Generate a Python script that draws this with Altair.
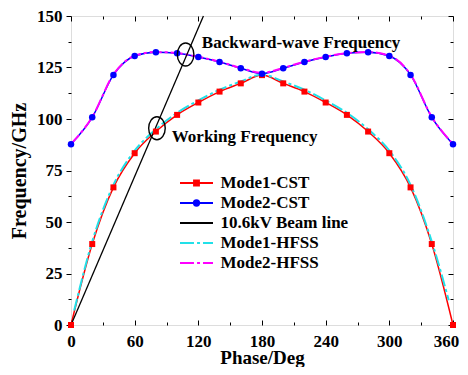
import altair as alt
import pandas as pd

# ---------------- data ----------------
phase = [0, 20, 40, 60, 80, 100, 120, 140, 160, 180, 200, 220, 240, 260, 280, 300, 320, 340, 360]
mode1_cst = [0, 39.3, 66.8, 83.4, 93.9, 102.0, 108.0, 113.3, 117.3, 121.3, 117.3, 113.3, 108.0, 102.0, 93.9, 83.4, 66.8, 39.3, 0]
mode2_cst = [87.7, 100.8, 121.4, 130.6, 132.4, 131.9, 130.1, 127.7, 124.6, 122.0, 124.6, 127.7, 130.1, 131.9, 132.4, 130.6, 121.4, 100.8, 87.7]
hfss1_phase = [3, 20, 40, 60, 80, 100, 120, 140, 160, 180, 200, 220, 240, 260, 280, 300, 320, 340, 356]
mode1_hfss = [7.0, 40.5, 68.0, 84.6, 95.0, 103.0, 109.0, 114.2, 118.2, 121.6, 118.2, 114.2, 109.0, 103.0, 95.0, 84.6, 68.0, 40.5, 12.0]
hfss2_phase = [0, 20, 40, 60, 80, 100, 120, 140, 160, 180, 200, 220, 240, 260, 280, 300, 320, 340, 360]
mode2_hfss = [87.9, 101.0, 121.6, 130.7, 132.5, 132.0, 130.2, 127.8, 124.8, 122.4, 124.8, 127.8, 130.2, 132.0, 132.5, 130.7, 121.6, 101.0, 87.9]
beam_phase = [0, 124.8]
beam_freq = [0, 150]

series_names = ["Mode1-CST", "Mode2-CST", "10.6kV Beam line", "Mode1-HFSS", "Mode2-HFSS"]
series_colors = ["#FF0000", "#0000FF", "#000000", "#22E0E8", "#FF00FF"]
legend_shapes = [
    "M-1.5,0H1.5M-0.22,-0.22H0.22V0.22H-0.22Z",
    "M-1.5,0H1.5M0.24,0A0.24,0.24 0 1,1 -0.24,0A0.24,0.24 0 1,1 0.24,0Z",
    "M-1.5,0H1.5",
    "M-1.5,0H-0.23M0.05,0H0.32M0.59,0H1.5",
    "M-1.5,0H-0.23M0.05,0H0.32M0.59,0H1.5",
]

ann_text = ["Backward-wave Frequency", "Working Frequency"]
ann_phase = [123.3, 95.0]
ann_freq = [134.3, 89.0]

ell_phase = [108.0, 81.0]
ell_freq = [131.3, 95.5]

x_major = [0, 60, 120, 180, 240, 300, 360]
x_minor = [30, 90, 150, 210, 270, 330]
y_major = [0, 25, 50, 75, 100, 125, 150]
y_minor = [12.5, 37.5, 62.5, 87.5, 112.5, 137.5]

# ---------------- layout ----------------
W, H = 382, 309
FONT = "Liberation Serif"
ELLIPSE = "M0,-1A0.72,1 0 1,1 0,1A0.72,1 0 1,1 0,-1Z"

xs = alt.Scale(domain=[0, 360], nice=False, zero=False)
ys = alt.Scale(domain=[0, 150], nice=False, zero=False)

def tick_axis(orient, values, size, offset=0):
    return alt.Axis(orient=orient, values=values, labels=False, domain=False,
                    ticks=True, tickSize=size, tickColor="black", tickWidth=1,
                    offset=offset, title=None, grid=False)

ax_x_labels = alt.Axis(orient="bottom", values=x_major, ticks=False, domain=False,
                       labelFont=FONT, labelFontSize=17, labelFontWeight="bold",
                       labelColor="black", labelPadding=8, labelFlush=False,
                       labelOffset={"expr": "datum.value == 360 ? -7 : 0"},
                       format="d", grid=False,
                       title="Phase/Deg", titleFont=FONT, titleFontSize=19,
                       titleFontWeight="bold", titleColor="black",
                       titleX=W / 2, titleY=38, titleBaseline="alphabetic")
ax_y_labels = alt.Axis(orient="left", values=y_major, ticks=True, tickSize=5,
                       tickColor="black", domain=False,
                       labelFont=FONT, labelFontSize=17, labelFontWeight="bold",
                       labelColor="black", labelPadding=4, format="d", grid=False,
                       title="Frequency/GHz", titleFont=FONT, titleFontSize=20,
                       titleFontWeight="bold", titleColor="black",
                       titleAngle=270, titleX=-46, titleY=H / 2,
                       titleBaseline="alphabetic", titleAlign="center")

def df_of(px, py):
    return pd.DataFrame({"phase": px, "freq": py})

m1 = df_of(phase, mode1_cst)
m2 = df_of(phase, mode2_cst)
h1 = df_of(hfss1_phase, mode1_hfss)
h2 = df_of(hfss2_phase, mode2_hfss)
bm = df_of(beam_phase, beam_freq)
ann = pd.DataFrame({"phase": ann_phase, "freq": ann_freq, "label": ann_text})
ell = df_of(ell_phase, ell_freq)
leg = pd.DataFrame({"series": series_names, "phase": [0] * 5, "freq": [0] * 5})

def enc(chart, xaxis=None, yaxis=None):
    return chart.encode(
        x=alt.X("phase:Q", scale=xs, axis=xaxis),
        y=alt.Y("freq:Q", scale=ys, axis=yaxis),
    )

l_m1 = enc(alt.Chart(m1).mark_line(color="#FF0000", strokeWidth=1.5, interpolate="monotone"),
           ax_x_labels, ax_y_labels)
l_m2 = enc(alt.Chart(m2).mark_line(color="#0000FF", strokeWidth=1.5, interpolate="monotone"),
           tick_axis("top", x_major, 5, -H), tick_axis("left", y_minor, 3))
l_h1 = enc(alt.Chart(h1).mark_line(color="#22E0E8", strokeWidth=2, strokeDash=[12, 3, 3, 3],
                                   interpolate="monotone"),
           tick_axis("top", x_minor, 3, -H), tick_axis("left", y_major, 5, -W))
l_h2 = enc(alt.Chart(h2).mark_line(color="#FF00FF", strokeWidth=2, strokeDash=[12, 3, 3, 3],
                                   interpolate="monotone"),
           tick_axis("bottom", x_major, 5, -H), tick_axis("left", y_minor, 3, -W))
p_m1 = enc(alt.Chart(m1).mark_point(shape="square", size=36, filled=True, color="#FF0000", opacity=1),
           tick_axis("bottom", x_minor, 3, -H), None)
p_m2 = enc(alt.Chart(m2).mark_point(shape="circle", size=42, filled=True, color="#0000FF", opacity=1))
l_bm = enc(alt.Chart(bm).mark_line(color="black", strokeWidth=1.3))
e_l = enc(alt.Chart(ell).mark_point(shape=ELLIPSE, size=529, filled=False, color="black",
                                    strokeWidth=1.4, opacity=1))
t_l = enc(alt.Chart(ann).mark_text(align="left", baseline="alphabetic", font=FONT, fontSize=17,
                                   fontWeight="bold", color="black")).encode(text="label:N")

legend_def = alt.Legend(
    orient="none", legendX=113.5, legendY=155, title=None, padding=0,
    labelFont=FONT, labelFontSize=17, labelFontWeight="bold", labelColor="black",
    symbolSize=484, symbolStrokeWidth=2, symbolOpacity=1, symbolFillColor="black",
    rowPadding=0, labelOffset=12,
)
leg_l = alt.Chart(leg).mark_point(filled=True, opacity=0, size=0).encode(
    x=alt.X("phase:Q", scale=xs, axis=None),
    y=alt.Y("freq:Q", scale=ys, axis=None),
    fill=alt.Fill("series:N", scale=alt.Scale(domain=series_names, range=series_colors),
                  legend=legend_def),
    stroke=alt.Stroke("series:N", scale=alt.Scale(domain=series_names, range=series_colors),
                      legend=legend_def),
    shape=alt.Shape("series:N", scale=alt.Scale(domain=series_names, range=legend_shapes),
                    legend=legend_def),
)

chart = alt.layer(l_m1, l_m2, l_h1, l_h2, l_bm, p_m1, p_m2, e_l, t_l, leg_l).resolve_axis(
    x="independent", y="independent"
).properties(
    width=W, height=H,
    autosize=alt.AutoSizeParams(type="none"),
    padding={"left": 63, "top": 8, "right": 7, "bottom": 42},
).configure_view(stroke="black", strokeWidth=1.3).configure(background="white")

chart.save("out.html", embed_options={"renderer": "svg", "actions": False})
